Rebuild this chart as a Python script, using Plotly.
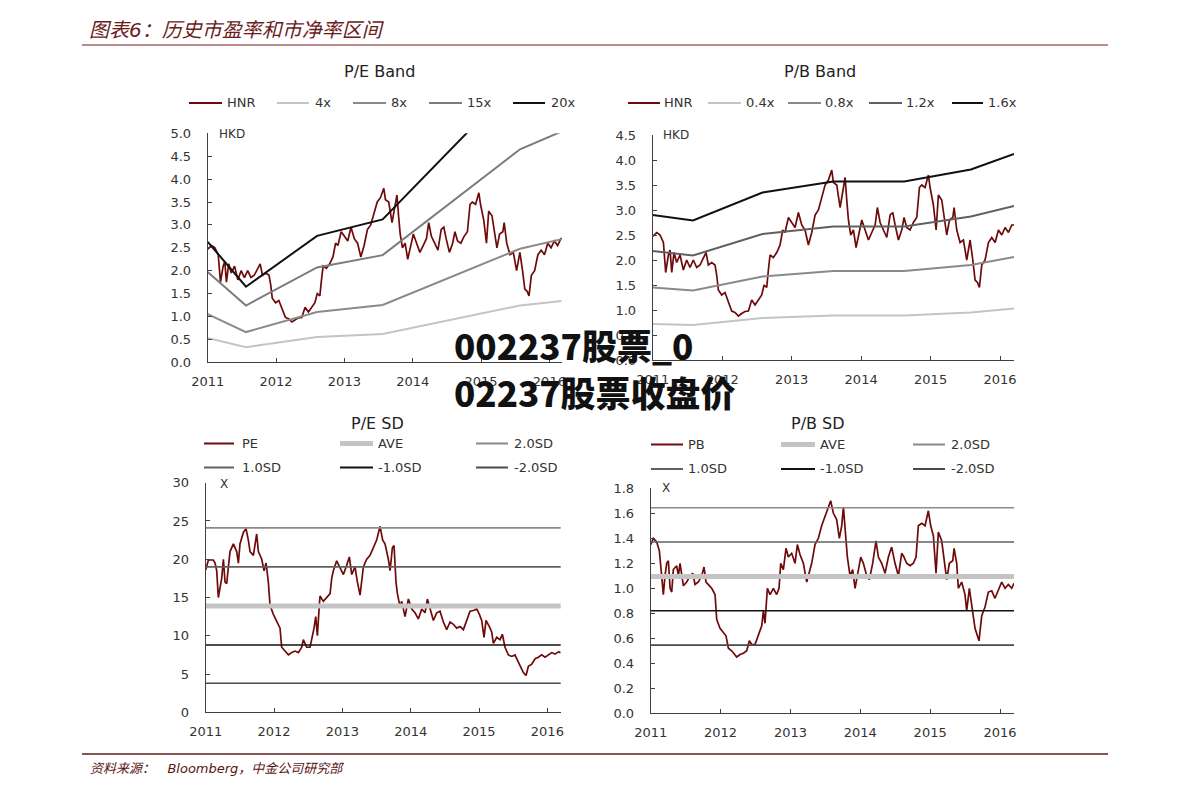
import plotly.graph_objects as go

W, H = 1191, 794
BASE = 2011

# ------------------------------------------------------------------ data
years = [2011, 2012, 2013, 2014, 2015, 2016]

# HNR share price (HKD); time = years since 2011-01-01
hnr_t = [0.000,0.058,0.106,0.154,0.187,0.226,0.250,0.274,0.307,0.345,
         0.393,0.441,0.489,0.537,0.585,0.633,0.681,0.729,0.768,0.801,
         0.849,0.897,0.921,0.945,0.993,1.041,1.089,1.137,1.185,1.233,
         1.281,1.329,1.377,1.425,1.473,1.521,1.569,1.603,1.641,1.665,
         1.689,1.737,1.785,1.833,1.871,1.905,1.953,2.001,2.049,2.097,
         2.145,2.193,2.241,2.289,2.337,2.385,2.433,2.481,2.529,2.577,
         2.601,2.649,2.697,2.735,2.769,2.793,2.817,2.850,2.889,2.927,
         2.975,3.009,3.057,3.105,3.153,3.201,3.234,3.273,3.321,3.369,
         3.417,3.455,3.489,3.537,3.584,3.618,3.656,3.704,3.752,3.800,
         3.839,3.872,3.920,3.968,3.992,4.016,4.040,4.079,4.112,4.160,
         4.208,4.232,4.271,4.319,4.338,4.376,4.424,4.472,4.520,4.568,
         4.607,4.640,4.674,4.702,4.736,4.784,4.832,4.880,4.928,4.976,
         5.024,5.072,5.120,5.168,5.202]
hnr_v = [2.47,2.55,2.50,2.35,1.75,2.10,2.20,1.75,2.15,1.95,
         2.10,1.80,2.00,1.85,2.00,1.85,1.90,2.05,2.15,1.90,
         1.95,1.90,1.70,1.40,1.30,1.35,1.15,0.98,0.95,0.88,
         0.93,0.97,0.98,1.20,1.10,1.20,1.30,1.50,1.45,1.80,
         2.10,2.05,2.15,2.30,2.60,2.55,2.85,2.75,2.65,2.95,
         2.70,2.60,2.30,2.55,2.90,3.00,3.25,3.50,3.60,3.80,
         3.55,3.50,3.05,3.40,3.65,3.20,2.80,2.50,2.60,2.25,
         2.55,2.80,2.60,2.40,2.55,2.70,3.05,2.75,2.60,2.45,
         2.90,2.95,2.70,2.40,2.60,2.85,2.65,2.60,2.75,2.85,
         3.45,3.50,3.45,3.70,3.45,3.30,3.10,2.60,3.30,3.20,
         2.75,2.50,2.80,2.85,3.05,2.60,2.35,2.40,2.00,2.40,
         2.00,1.60,1.55,1.45,1.90,2.00,2.35,2.45,2.35,2.60,
         2.50,2.65,2.55,2.70,2.70]

# P/E band lines (HKD)
pe_band_t = [0.0, 0.56, 1.60, 2.56, 4.57, 5.18]
pe_4x  = [0.53, 0.33, 0.55, 0.62, 1.24, 1.34]
pe_8x  = [1.05, 0.66, 1.10, 1.25, 2.48, 2.69]
pe_15x = [1.97, 1.24, 2.07, 2.34, 4.65, 5.04]
pe_20x = [2.63, 1.65, 2.76, 3.12, 6.20, 6.72]

# P/B band lines (HKD)
pb_band_t = [0.0, 0.58, 1.58, 2.60, 3.62, 4.58, 5.20]
pb_04x = [0.72, 0.70, 0.84, 0.89, 0.89, 0.95, 1.03]
pb_08x = [1.45, 1.39, 1.67, 1.78, 1.78, 1.90, 2.06]
pb_12x = [2.18, 2.09, 2.52, 2.67, 2.67, 2.87, 3.08]
pb_16x = [2.90, 2.79, 3.35, 3.57, 3.57, 3.81, 4.12]

# P/E ratio (x)
pe_t = [0.000,0.039,0.112,0.137,0.161,0.185,0.234,0.259,0.283,0.307,
        0.332,0.356,0.405,0.454,0.478,0.502,0.551,0.590,0.624,0.649,
        0.698,0.746,0.771,0.820,0.854,0.883,0.917,0.941,0.990,1.039,
        1.088,1.112,1.161,1.210,1.259,1.307,1.356,1.405,1.429,1.478,
        1.527,1.551,1.585,1.610,1.634,1.663,1.673,1.722,1.771,1.820,
        1.844,1.868,1.917,1.966,2.015,2.063,2.102,2.137,2.185,2.220,
        2.259,2.307,2.356,2.405,2.454,2.502,2.551,2.590,2.624,2.673,
        2.698,2.732,2.756,2.785,2.805,2.844,2.868,2.917,2.966,3.015,
        3.063,3.112,3.161,3.210,3.244,3.283,3.332,3.380,3.429,3.478,
        3.527,3.576,3.624,3.673,3.722,3.771,3.820,3.868,3.917,3.966,
        4.005,4.039,4.073,4.102,4.151,4.185,4.210,4.259,4.307,4.341,
        4.380,4.429,4.478,4.527,4.551,4.600,4.649,4.688,4.722,4.771,
        4.820,4.868,4.917,4.966,5.015,5.063,5.112,5.161,5.195]
pe_v = [18.6,19.9,19.9,19.5,18.5,15.0,17.5,20.0,17.0,16.8,
        19.0,21.0,22.0,21.0,19.5,22.0,23.5,24.0,22.5,21.0,
        20.5,23.3,21.0,20.0,18.5,19.5,17.0,14.0,12.8,12.0,
        11.0,8.5,8.0,7.5,7.8,8.0,7.8,8.5,9.5,8.5,
        8.5,9.5,11.0,12.5,10.0,14.0,15.2,14.5,15.0,15.5,
        17.5,18.5,19.8,19.0,18.0,19.2,20.3,18.0,19.0,17.0,
        15.3,19.0,20.0,20.5,21.5,22.5,24.3,22.5,22.0,20.0,
        18.5,21.5,21.8,17.0,15.5,13.8,14.5,12.5,14.8,13.5,
        13.0,12.2,13.5,13.0,14.8,13.5,12.0,13.0,13.2,11.8,
        10.8,11.8,11.5,11.0,11.2,10.8,12.0,13.2,13.3,13.5,
        12.8,12.0,9.8,12.0,11.2,10.5,9.0,9.8,9.5,10.2,
        8.5,7.5,7.3,7.5,7.0,6.0,5.2,4.8,6.0,6.3,
        7.0,7.2,7.5,7.2,7.5,7.8,7.6,7.9,7.8]

# P/B ratio (x)
pb_t = [0.000,0.038,0.086,0.124,0.157,0.181,0.205,0.229,0.253,0.277,
        0.301,0.324,0.372,0.396,0.420,0.468,0.515,0.563,0.601,0.635,
        0.682,0.730,0.763,0.792,0.825,0.873,0.921,0.945,0.992,1.040,
        1.078,1.112,1.159,1.231,1.279,1.326,1.374,1.412,1.446,1.493,
        1.541,1.589,1.613,1.636,1.670,1.708,1.756,1.803,1.837,1.861,
        1.899,1.937,1.970,2.018,2.066,2.099,2.137,2.185,2.233,2.257,
        2.304,2.352,2.400,2.447,2.495,2.543,2.576,2.615,2.662,2.700,
        2.734,2.758,2.782,2.815,2.853,2.891,2.925,2.972,3.006,3.044,
        3.092,3.130,3.177,3.225,3.259,3.306,3.354,3.402,3.449,3.497,
        3.545,3.593,3.626,3.664,3.712,3.760,3.798,3.831,3.879,3.927,
        3.974,4.008,4.046,4.084,4.117,4.165,4.213,4.237,4.275,4.323,
        4.342,4.380,4.403,4.451,4.499,4.523,4.561,4.609,4.642,4.676,
        4.699,4.738,4.785,4.833,4.881,4.928,4.976,5.024,5.072,5.119,
        5.167,5.200]
pb_v = [1.35,1.40,1.37,1.30,1.10,0.95,1.10,1.20,1.22,1.00,
        0.97,1.15,1.18,1.10,1.20,1.02,1.05,1.10,1.12,1.03,
        1.05,1.10,1.17,1.05,1.03,1.00,0.95,0.75,0.68,0.65,
        0.62,0.52,0.50,0.45,0.47,0.48,0.50,0.58,0.55,0.55,
        0.63,0.70,0.82,0.72,1.00,0.95,1.00,0.95,1.00,1.20,
        1.15,1.32,1.25,1.28,1.20,1.35,1.27,1.20,1.05,1.10,
        1.20,1.35,1.40,1.50,1.58,1.65,1.70,1.60,1.55,1.40,
        1.50,1.65,1.45,1.25,1.10,1.15,1.00,1.15,1.25,1.20,
        1.10,1.07,1.20,1.38,1.25,1.20,1.12,1.25,1.33,1.20,
        1.10,1.28,1.25,1.20,1.18,1.20,1.25,1.50,1.52,1.50,
        1.62,1.50,1.42,1.12,1.45,1.38,1.15,1.07,1.20,1.22,
        1.32,1.20,1.00,1.05,0.95,0.82,1.00,0.80,0.68,0.62,
        0.58,0.78,0.85,0.97,0.98,0.92,0.98,1.05,1.00,1.03,
        1.00,1.04]

# standard-deviation levels
sd_t = [0.0, 5.25]
sd_names = ["AVE", "2.0SD", "1.0SD", "-1.0SD", "-2.0SD"]
pe_sd = [13.9, 24.1, 19.0, 8.8, 3.8]
pb_sd = [1.095, 1.645, 1.37, 0.82, 0.545]

# tick values
pe_band_yticks = [0.0, 0.5, 1.0, 1.5, 2.0, 2.5, 3.0, 3.5, 4.0, 4.5, 5.0]
pb_band_yticks = [0.0, 0.5, 1.0, 1.5, 2.0, 2.5, 3.0, 3.5, 4.0, 4.5]
pe_sd_yticks = [0, 5, 10, 15, 20, 25, 30]
pb_sd_yticks = [0.0, 0.2, 0.4, 0.6, 0.8, 1.0, 1.2, 1.4, 1.6, 1.8]

# ------------------------------------------------------------------ styles
RED = "#6e0a0a"
C_LIGHT = "#c4c4c4"
C_MID = "#8a8a8a"
C_MID2 = "#7c7c7c"
C_DARK = "#606060"
C_BLACK = "#111111"
AXC = "#404040"
TXT = "#333333"
FONT = "DejaVu Sans"


def X(p):
    return p / W


def Y(p):
    return 1 - p / H


fig = go.Figure()


def add_line(ts, vs, ax, color, width):
    fig.add_trace(go.Scatter(
        x=[BASE + t for t in ts], y=vs, mode="lines",
        line=dict(color=color, width=width),
        xaxis="x" + ax, yaxis="y" + ax,
        showlegend=False, hoverinfo="skip"))


# P/E band (axis 1)
add_line(hnr_t, hnr_v, "", RED, 1.7)
add_line(pe_band_t, pe_4x, "", C_LIGHT, 2)
add_line(pe_band_t, pe_8x, "", C_MID, 2)
add_line(pe_band_t, pe_15x, "", C_MID2, 2)
add_line(pe_band_t, pe_20x, "", C_BLACK, 2)

# P/B band (axis 2)
add_line(hnr_t, hnr_v, "2", RED, 1.7)
add_line(pb_band_t, pb_04x, "2", C_LIGHT, 2)
add_line(pb_band_t, pb_08x, "2", C_MID, 2)
add_line(pb_band_t, pb_12x, "2", C_DARK, 2)
add_line(pb_band_t, pb_16x, "2", C_BLACK, 2)

sd_colors = [C_LIGHT, C_MID, C_DARK, C_BLACK, "#4a4a4a"]
sd_widths = [5, 1.6, 1.6, 1.6, 1.6]

# P/E SD (axis 3)
add_line(pe_t, pe_v, "3", RED, 1.7)
for lvl, c, w in zip(pe_sd, sd_colors, sd_widths):
    add_line(sd_t, [lvl, lvl], "3", c, w)

# P/B SD (axis 4)
add_line(pb_t, pb_v, "4", RED, 1.7)
for lvl, c, w in zip(pb_sd, sd_colors, sd_widths):
    add_line(sd_t, [lvl, lvl], "4", c, w)

# ------------------------------------------------------------------ axes
panels = [
    ("", 207.7, 561.7, 133.3, 362.3, 2016.18, [0, 5.0], pe_band_yticks, ".1f"),
    ("2", 652.7, 1014.0, 135.0, 360.0, 2016.2, [0, 4.5], pb_band_yticks, ".1f"),
    ("3", 205.7, 560.7, 482.7, 712.3, 2016.195, [0, 30], pe_sd_yticks, "d"),
    ("4", 650.7, 1014.0, 488.3, 713.3, 2016.2, [0, 1.8], pb_sd_yticks, ".1f"),
]
layout_axes = {}
for ax, x0, x1, y0, y1, xend, yr, yt, fmt in panels:
    common = dict(showline=True, linecolor=AXC, linewidth=1, ticks="inside",
                  ticklen=4, tickwidth=1, tickcolor=AXC, showgrid=False,
                  zeroline=False, fixedrange=True, automargin=False,
                  tickfont=dict(family=FONT, size=13, color=TXT))
    layout_axes["xaxis" + ax] = dict(
        domain=[X(x0), X(x1)], range=[BASE, xend], tickvals=years,
        ticktext=[str(y) for y in years], anchor="y" + ax,
        ticklabelstandoff=7, **common)
    yfmt = [format(v, fmt) if fmt != "d" else str(int(v)) for v in yt]
    layout_axes["yaxis" + ax] = dict(
        domain=[Y(y1), Y(y0)], range=yr, tickvals=yt, ticktext=yfmt,
        anchor="x" + ax, ticklabelstandoff=13, **common)

fig.update_layout(**layout_axes)

# ------------------------------------------------------------------ text / legends
annotations = []
shapes = []


def text(x, y, s, size=13, color=TXT, xanchor="left", family=FONT, **font_kw):
    annotations.append(dict(
        x=X(x), y=Y(y), xref="paper", yref="paper", text=s, showarrow=False,
        xanchor=xanchor, yanchor="middle",
        font=dict(family=family, size=size, color=color, **font_kw)))


def key(x0, x1, y, color, width):
    shapes.append(dict(type="line", xref="paper", yref="paper",
                       x0=X(x0), x1=X(x1), y0=Y(y), y1=Y(y),
                       line=dict(color=color, width=width)))


# header / footer
text(87, 30, "图表6：历史市盈率和市净率区间", size=20, color="#6b1c1c",
     family="DejaVu Sans, Noto Sans CJK SC", style="italic")
shapes.append(dict(type="line", xref="paper", yref="paper", x0=X(82), x1=X(1108),
                   y0=Y(45), y1=Y(45), line=dict(color="#a56668", width=1.5)))
shapes.append(dict(type="line", xref="paper", yref="paper", x0=X(82), x1=X(1108),
                   y0=Y(754), y1=Y(754), line=dict(color="#5e1e1e", width=1.5)))
text(88, 768, "资料来源：&nbsp;&nbsp;&nbsp;Bloomberg，中金公司研究部", size=13,
     color="#5a1414", family="DejaVu Sans, Noto Sans CJK SC", style="italic")

# chart titles
text(379, 72, "P/E Band", size=16, color="#222222", xanchor="center")
text(820, 72, "P/B Band", size=16, color="#222222", xanchor="center")
text(377, 423, "P/E SD", size=16, color="#222222", xanchor="center")
text(818, 424, "P/B SD", size=16, color="#222222", xanchor="center")

# unit labels
text(217, 134, "HKD", size=12)
text(661, 135, "HKD", size=12)
text(218, 484, "X", size=12)
text(660, 488, "X", size=12)

# P/E band legend
pe_leg = [(189, 222, 225, "HNR", RED), (277, 309, 313, "4x", C_LIGHT),
          (353, 386, 389, "8x", C_MID), (429, 462, 465, "15x", C_MID2),
          (513, 545, 549, "20x", C_BLACK)]
for a, b, t, s, c in pe_leg:
    key(a, b, 103, c, 2)
    text(t, 103, s)

# P/B band legend
pb_leg = [(628, 660, 662, "HNR", RED), (708, 741, 744, "0.4x", C_LIGHT),
          (788, 821, 823, "0.8x", C_MID), (869, 902, 904, "1.2x", C_DARK),
          (952, 983, 986, "1.6x", C_BLACK)]
for a, b, t, s, c in pb_leg:
    key(a, b, 103, c, 2)
    text(t, 103, s)

# SD legends
pe_cols = [(204, 234, 240), (340, 373, 376), (476, 508, 512)]
pe_rows = [443.5, 467.5]
pe_names = ["PE", "AVE", "2.0SD", "1.0SD", "-1.0SD", "-2.0SD"]
pe_cols_c = [RED, C_LIGHT, C_MID, C_DARK, C_BLACK, "#4a4a4a"]
pe_cols_w = [2, 5, 2, 2, 2, 2]
for i, (s, c, w) in enumerate(zip(pe_names, pe_cols_c, pe_cols_w)):
    a, b, t = pe_cols[i % 3]
    yy = pe_rows[i // 3]
    key(a, b, yy, c, w)
    text(t, yy, s)

pb_cols = [(651, 683, 686), (781, 815, 818), (913, 945, 949)]
pb_rows = [444.5, 469]
pb_names = ["PB", "AVE", "2.0SD", "1.0SD", "-1.0SD", "-2.0SD"]
for i, (s, c, w) in enumerate(zip(pb_names, pe_cols_c, pe_cols_w)):
    a, b, t = pb_cols[i % 3]
    yy = pb_rows[i // 3]
    key(a, b, yy, c, w)
    text(t, yy, s)

# overlay caption
text(452, 344, "002237股票_0", size=35, color="#111111",
     family="Noto Sans CJK SC", weight=900)
text(452, 391, "02237股票收盘价", size=35, color="#111111",
     family="Noto Sans CJK SC", weight=900)

fig.update_layout(
    width=W, height=H, autosize=False,
    margin=dict(l=0, r=0, t=0, b=0, pad=0, autoexpand=False),
    paper_bgcolor="white", plot_bgcolor="white",
    showlegend=False, annotations=annotations, shapes=shapes,
    font=dict(family=FONT, color=TXT),
)

fig.write_html(
    "out.html",
    config={"displayModeBar": False, "staticPlot": True},
    post_script="document.body.style.margin='0px';document.body.style.padding='0px';",
)
